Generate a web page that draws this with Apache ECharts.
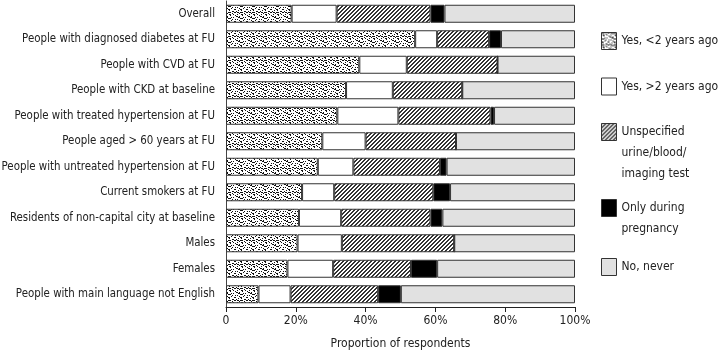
<!DOCTYPE html>
<html>
<head>
<meta charset="utf-8">
<script src="https://cdn.jsdelivr.net/npm/echarts@6/dist/echarts.min.js"></script>
<style>
html,body{margin:0;padding:0;background:#fff;}
#main{width:720px;height:356px;}
</style>
</head>
<body>
<div id="main"></div>
<script>
const categories = [
  'Overall',
  'People with diagnosed diabetes at FU',
  'People with CVD at FU',
  'People with CKD at baseline',
  'People with treated hypertension at FU',
  'People aged > 60 years at FU',
  'People with untreated hypertension at FU',
  'Current smokers at FU',
  'Residents of non-capital city at baseline',
  'Males',
  'Females',
  'People with main language not English'
];
const seriesNames = [
  'Yes, <2 years ago',
  'Yes, >2 years ago',
  'Unspecified\nurine/blood/\nimaging test',
  'Only during\npregnancy',
  'No, never'
];
const yesRecent   = [18.8, 54.2, 38.2, 34.4, 31.9, 27.6, 26.3, 21.8, 20.9, 20.5, 17.6, 9.3];
const yesOld      = [12.9, 6.3, 13.6, 13.4, 17.5, 12.4, 10.2, 9.2, 12.1, 12.7, 13.1, 9.2];
const unspecified = [26.9, 14.9, 26.0, 19.9, 26.4, 25.9, 24.8, 28.4, 25.6, 32.2, 22.3, 25.1];
const pregnancy   = [4.0, 3.4, 0, 0, 1.0, 0, 1.9, 4.8, 3.4, 0, 7.5, 6.5];
const never       = [37.4, 21.2, 22.2, 32.3, 23.2, 34.1, 36.8, 35.8, 38.0, 34.6, 39.5, 49.9];
const xTicks = [0, 20, 40, 60, 80, 100];

// texture tiles
function dotTile() {
  const c = document.createElement('canvas');
  c.width = 12; c.height = 12;
  const g = c.getContext('2d');
  g.fillStyle = '#fff'; g.fillRect(0, 0, 12, 12);
  g.fillStyle = '#111';
  const pts = [[0,0],[4,1],[9,0],[2,3],[7,3],[11,4],[5,5],[0,6],[9,7],[3,8],[6,9],[10,10],[1,10],[8,11],[5,2],[2,6],[11,1],[7,7],[4,11],[10,5],[1,2],[6,0],[8,4],[3,5],[0,9],[7,9],[11,8],[4,7],[9,2],[5,11],[2,0]];
  pts.forEach(p => g.fillRect(p[0], p[1], (p[0] + p[1]) % 3 === 0 ? 2 : 1, 1));
  return c;
}
function hatchTile() {
  const c = document.createElement('canvas');
  c.width = 4; c.height = 4;
  const g = c.getContext('2d');
  g.fillStyle = '#fff'; g.fillRect(0, 0, 4, 4);
  g.fillStyle = '#333';
  for (let i = 0; i < 4; i++) {
    g.fillRect(i, 3 - i, 1, 1);
    g.fillRect(i, (4 - i) % 4, 1, 1);
  }
  return c;
}
const fills = [
  { image: dotTile(), repeat: 'repeat' },
  '#ffffff',
  { image: hatchTile(), repeat: 'repeat' },
  '#000000',
  '#e1e1e1'
];
const values = [yesRecent, yesOld, unspecified, pregnancy, never];
const FONT = '"DejaVu Sans Condensed", "Liberation Sans Narrow", sans-serif';
const FS = 11.4;

// legend: icon centres (px) and leading blank lines so the first text line sits beside the icon
const iconCentres = [41, 86.5, 132, 208, 267];
const leadBlanks = [0, 0, 2, 1, 0];
const LH = 21;

const chart = echarts.init(document.getElementById('main'), null, { renderer: 'canvas' });
chart.setOption({
  animation: false,
  textStyle: { fontFamily: FONT, color: '#222' },
  grid: { left: 226, right: 145, top: 1, bottom: 49, containLabel: false, outerBoundsMode: 'none' },
  legend: seriesNames.map((n, i) => {
    const lines = n.split('\n').length + leadBlanks[i];
    return {
      data: [{ name: n, icon: 'rect' }],
      left: 601,
      top: iconCentres[i] - lines * LH / 2,
      orient: 'vertical',
      padding: 0,
      itemWidth: 15,
      itemHeight: 17,
      itemGap: 5,
      selectedMode: false,
      itemStyle: { borderColor: '#333', borderWidth: 1 },
      formatter: name => '\n'.repeat(leadBlanks[i]) + name,
      textStyle: { fontFamily: FONT, fontSize: 12, color: '#222', lineHeight: LH }
    };
  }),
  xAxis: {
    type: 'value', min: 0, max: 100, interval: 20,
    name: 'Proportion of respondents',
    nameLocation: 'middle', nameGap: 31,
    nameTextStyle: { fontFamily: FONT, fontSize: 12, color: '#222' },
    axisLine: { show: true, lineStyle: { color: '#222', width: 1 } },
    axisTick: { show: true, length: 5, lineStyle: { color: '#222' } },
    axisLabel: {
      fontFamily: FONT, fontSize: 12, color: '#222', margin: 8,
      formatter: v => (v === 0 ? '0' : v + '%')
    },
    splitLine: { show: false }
  },
  yAxis: {
    type: 'category', data: categories, inverse: true,
    axisLine: { show: true, lineStyle: { color: '#444', width: 1 } },
    axisTick: { show: false },
    axisLabel: { fontFamily: FONT, fontSize: FS, color: '#222', margin: 11 }
  },
  series: seriesNames.map((n, i) => ({
    name: n,
    type: 'bar',
    stack: 'total',
    barWidth: 18,
    data: values[i],
    itemStyle: { color: fills[i], borderColor: '#333', borderWidth: 1 },
    emphasis: { disabled: true }
  }))
});
</script>
</body>
</html>
